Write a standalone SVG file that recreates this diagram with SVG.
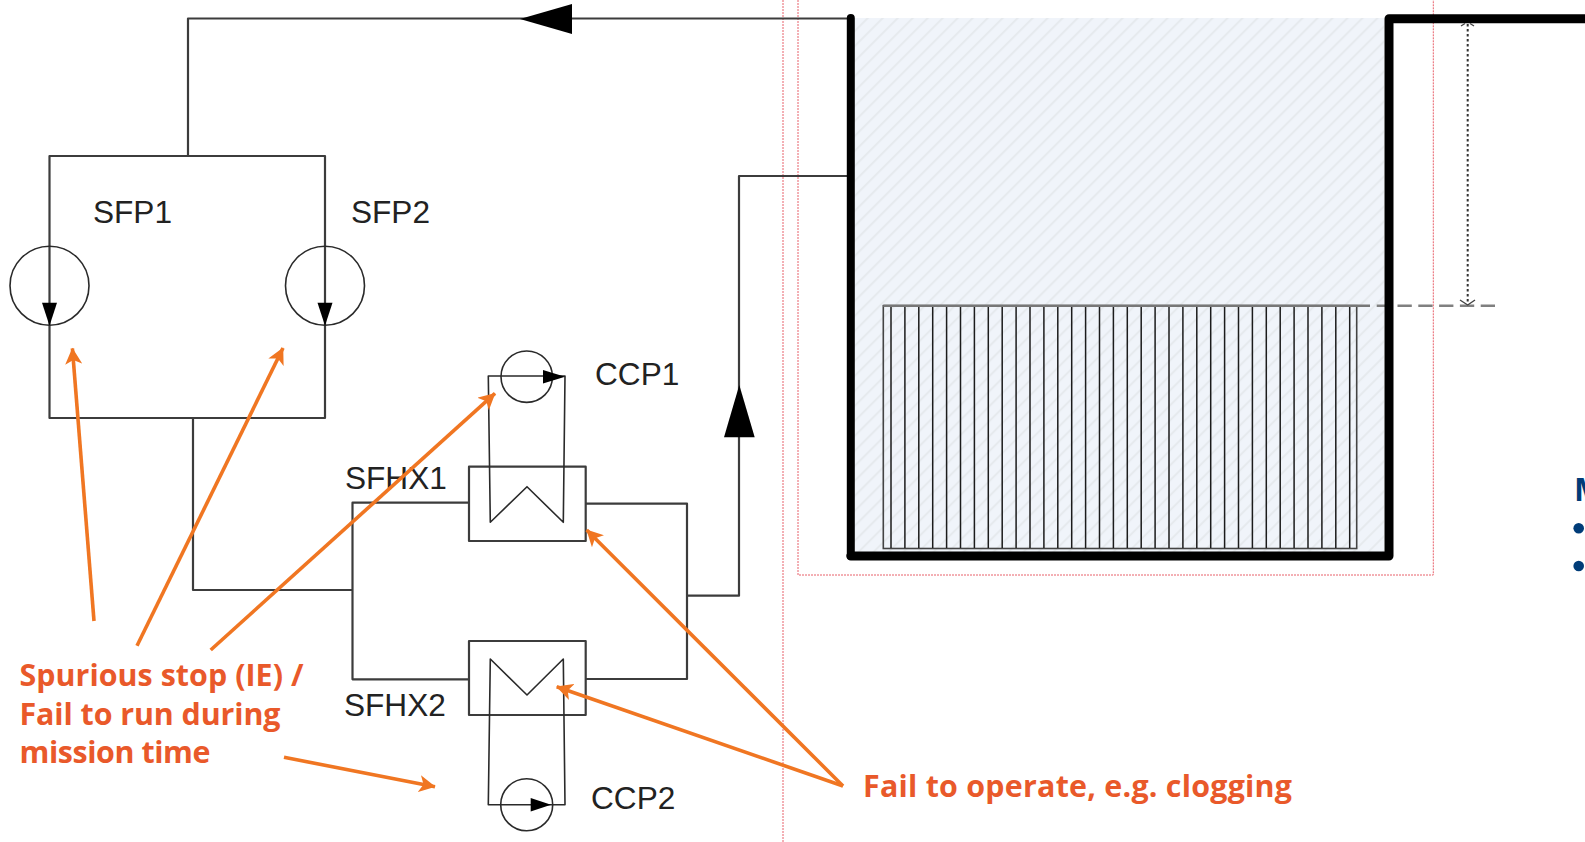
<svg xmlns="http://www.w3.org/2000/svg" width="1585" height="842" viewBox="0 0 1585 842">
<style>
.pipe{fill:none;stroke:#3c3c3c;stroke-width:2.2;stroke-linejoin:round}
.thin{fill:none;stroke:#2a2a2a;stroke-width:1.6;stroke-linejoin:round}
.head{fill:#000;stroke:none}
.lbl{font-family:"Liberation Sans",Arial,sans-serif;font-size:31.6px;fill:#222}
.note{font-family:"Open Sans","Noto Sans",sans-serif;font-weight:700;font-size:30.4px;fill:#E9592A}
.wall{fill:none;stroke:#000;stroke-width:9;stroke-linejoin:round;stroke-linecap:round}
.guide{fill:none;stroke:#E8606A;stroke-width:1;stroke-dasharray:2 1}
.warn{fill:none;stroke:#F07622;stroke-width:3.6;marker-end:url(#oa)}
</style>
<defs>
<marker id="oa" markerUnits="userSpaceOnUse" markerWidth="17" markerHeight="17" refX="15" refY="8" orient="auto" viewBox="0 0 16 16"><path d="M15.5 8L0 0L4 8L0 16Z" fill="#F07622"/></marker>
<pattern id="hatch" patternUnits="userSpaceOnUse" width="10.6" height="10.6" patternTransform="rotate(45)"><rect width="10.6" height="10.6" fill="#F0F4FA"/><rect width="2" height="10.6" fill="#E6EAEE"/></pattern>
</defs>
<rect width="1585" height="842" fill="#fff"/>
<g id="guides">
<path class="guide" d="M783 0V842"/>
<path class="guide" d="M798 0V575H1433.3V0"/>
</g>
<g id="connectors">
<path class="pipe" d="M850 18.5H188V156"/>
<path class="head" d="M520 19L572 4V34Z"/>
<path class="pipe" d="M193 418V590H352.5"/>
<path class="pipe" d="M469 502.7H352.5V679.3H469"/>
<path class="pipe" d="M585.7 503.7H687V679H585.7"/>
<path class="pipe" d="M687 595.7H739V176H850"/>
<path class="head" d="M739.3 385L754.7 437.3H724Z"/>
</g>
<g id="sfp-loop">
<path class="pipe" d="M49.5 156H325V418H49.5Z"/>
</g>
<g id="SFP1">
<circle class="thin" cx="49.5" cy="285.7" r="39.5"/>
<path class="head" d="M49.5 325.7L42 302.7H57Z"/>
<text class="lbl" x="93" y="223">SFP1</text>
</g>
<g id="SFP2">
<circle class="thin" cx="325" cy="285.7" r="39.5"/>
<path class="head" d="M325 325.7L317.5 302.7H332.5Z"/>
<text class="lbl" x="351" y="223">SFP2</text>
</g>
<g id="SFHX1">
<rect class="pipe" x="469" y="466.7" width="116.7" height="74.3"/>
<path class="thin" d="M490.3 522.3L527 486.7L563.3 522.3L565 376H488.3L490.3 522.3Z"/>
<text class="lbl" x="345" y="489">SFHX1</text>
</g>
<g id="SFHX2">
<rect class="pipe" x="469" y="641" width="116.7" height="74"/>
<path class="thin" d="M490.3 659L527 695L563.3 659L565 804.7H488.3L490.3 659Z"/>
<text class="lbl" x="344" y="715.7">SFHX2</text>
</g>
<g id="CCP1">
<circle class="thin" cx="526.7" cy="376.7" r="25.7"/>
<path class="head" d="M565 376.7L543 370V383.4Z"/>
<text class="lbl" x="595" y="385">CCP1</text>
</g>
<g id="CCP2">
<circle class="thin" cx="526.7" cy="804.7" r="26"/>
<path class="head" d="M551 804.7L530.7 798V811.4Z"/>
<text class="lbl" x="591" y="809">CCP2</text>
</g>
<g id="pool">
<rect x="854" y="18" width="530" height="534" fill="url(#hatch)"/>
<rect x="883.3" y="305.7" width="473.4" height="242.8" fill="none" stroke="#444" stroke-width="1.6"/>
<path fill="none" stroke="#1c1c1c" stroke-width="1.5" d="M891 306V548M904.9 306V548M918.8 306V548M932.7 306V548M946.6 306V548M960.5 306V548M974.4 306V548M988.3 306V548M1002.2 306V548M1016.1 306V548M1030 306V548M1043.9 306V548M1057.8 306V548M1071.7 306V548M1085.6 306V548M1099.5 306V548M1113.4 306V548M1127.3 306V548M1141.2 306V548M1155.1 306V548M1169 306V548M1182.9 306V548M1196.8 306V548M1210.7 306V548M1224.6 306V548M1238.5 306V548M1252.4 306V548M1266.3 306V548M1280.2 306V548M1294.1 306V548M1308 306V548M1321.9 306V548M1335.8 306V548M1349.7 306V548"/>
<path fill="none" stroke="#777" stroke-width="2.4" d="M883.3 305.7H1370"/>
<path fill="none" stroke="#808080" stroke-width="2.6" stroke-dasharray="14.3 6.5" d="M1495 305.7H1376"/>
<path class="wall" style="stroke-width:8" d="M850.8 18V556"/>
<path class="wall" d="M850.8 556H1389V18.7H1590"/>
<path fill="none" stroke="#333" stroke-width="2" stroke-dasharray="2.5 2.5" d="M1467.7 24V303"/>
<path fill="none" stroke="#444" stroke-width="1.4" d="M1460 300L1467.7 305L1475 300M1461 26L1465 23.5M1474 26L1470 23.5"/>
</g>
<g id="cut-off-text">
<text x="1574" y="501" font-family="'Open Sans','Noto Sans',sans-serif" font-weight="700" font-size="32" fill="#003C78">M</text>
<circle cx="1578.7" cy="528.3" r="5.3" fill="#003C78"/>
<circle cx="1578.7" cy="566" r="5.3" fill="#003C78"/>
</g>
<g id="annotations">
<path class="warn" d="M94 621L72.4 348.3"/>
<path class="warn" d="M137 645.7L283 348"/>
<path class="warn" d="M210.7 650L495 393.3"/>
<path class="warn" d="M284 757.3L435 786.7"/>
<path class="warn" d="M843 786L586.7 530"/>
<path class="warn" d="M843 786L556.7 686.7"/>
<text class="note" x="19.5" y="686" textLength="284">Spurious stop (IE) /</text>
<text class="note" x="19.5" y="724.5" textLength="261">Fail to run during</text>
<text class="note" x="19.5" y="762.7" textLength="191">mission time</text>
<text class="note" x="863" y="796.7" textLength="429">Fail to operate, e.g. clogging</text>
</g>
</svg>
